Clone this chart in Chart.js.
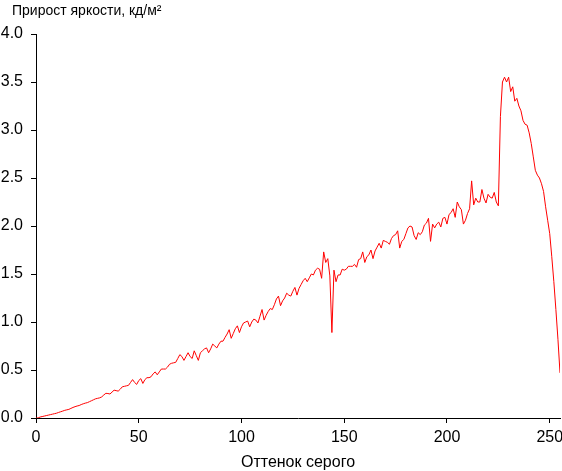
<!DOCTYPE html>
<html>
<head>
<meta charset="utf-8">
<script src="https://cdn.jsdelivr.net/npm/chart.js@4"></script>
<style>
  html, body { margin: 0; padding: 0; background: #fff; }
  #wrap { width: 562px; height: 471px; position: relative; }
</style>
</head>
<body>
<div id="wrap"><canvas id="gainChart" width="562" height="471"></canvas></div>
<script>
const chartTitle = "Прирост яркости, кд/м²";
const xTitle = "Оттенок серого";

// gray levels 0..255
const shades = Array.from({ length: 256 }, (_, i) => i);

// brightness increment per gray step
const gain = [
  0.00, 0.00, 0.01, 0.015, 0.02, 0.025, 0.03, 0.035, 0.04, 0.045,
  0.05, 0.058, 0.065, 0.072, 0.08, 0.085, 0.09, 0.10, 0.11, 0.118,
  0.125, 0.13, 0.14, 0.148, 0.155, 0.16, 0.17, 0.18, 0.19, 0.20,
  0.205, 0.21, 0.22, 0.24, 0.257, 0.255, 0.25, 0.27, 0.29, 0.285,
  0.28, 0.30, 0.325, 0.33, 0.335, 0.34, 0.37, 0.40, 0.37, 0.35,
  0.39, 0.41, 0.36, 0.40, 0.42, 0.42, 0.43, 0.46, 0.48, 0.45,
  0.48, 0.51, 0.51, 0.51, 0.53, 0.56, 0.57, 0.575, 0.58, 0.62,
  0.66, 0.64, 0.60, 0.64, 0.68, 0.64, 0.62, 0.70, 0.65, 0.60,
  0.68, 0.70, 0.72, 0.73, 0.68, 0.72, 0.77, 0.75, 0.73, 0.77,
  0.80, 0.80, 0.84, 0.875, 0.92, 0.83, 0.88, 0.93, 0.96, 0.89,
  0.95, 0.99, 1.00, 1.01, 0.95, 1.00, 1.03, 1.02, 0.99, 1.06,
  1.13, 1.02, 1.07, 1.11, 1.14, 1.13, 1.18, 1.24, 1.27, 1.17,
  1.22, 1.25, 1.30, 1.28, 1.27, 1.32, 1.36, 1.28, 1.35, 1.39,
  1.43, 1.455, 1.42, 1.46, 1.50, 1.49, 1.54, 1.56, 1.55, 1.455,
  1.73, 1.62, 1.66, 1.48, 0.89, 1.54, 1.42, 1.49, 1.49, 1.55,
  1.54, 1.55, 1.58, 1.58, 1.58, 1.60, 1.57, 1.65, 1.66, 1.73,
  1.62, 1.68, 1.70, 1.75, 1.66, 1.74, 1.78, 1.82, 1.77, 1.85,
  1.84, 1.83, 1.81, 1.87, 1.90, 1.91, 1.95, 1.77, 1.84, 1.86,
  1.92, 1.98, 2.00, 1.99, 1.90, 1.86, 1.93, 1.91, 1.94, 2.01,
  2.03, 2.08, 1.84, 2.02, 1.98, 2.02, 2.04, 1.99, 2.08, 2.09,
  2.02, 2.12, 2.14, 2.18, 2.09, 2.25, 2.20, 2.17, 2.02, 2.06,
  2.13, 2.18, 2.47, 2.22, 2.29, 2.25, 2.25, 2.38, 2.29, 2.24,
  2.33, 2.30, 2.29, 2.35, 2.25, 2.21, 3.14, 3.50, 3.55, 3.50,
  3.55, 3.40, 3.45, 3.30, 3.33, 3.25, 3.20, 3.10, 3.06, 3.05,
  2.97, 2.86, 2.72, 2.58, 2.53, 2.50, 2.44, 2.36, 2.20, 2.06,
  1.92, 1.68, 1.42, 1.13, 0.82, 0.47
];

const xTicks = [0, 50, 100, 150, 200, 250];
const yTicks = [0, 0.5, 1.0, 1.5, 2.0, 2.5, 3.0, 3.5, 4.0];

const family = "'Liberation Sans', Arial, sans-serif";
const tickFont = { family, size: 16 };

// title in the top left corner
const cornerTitle = {
  id: "cornerTitle",
  afterDraw(chart) {
    const ctx = chart.ctx;
    ctx.save();
    ctx.fillStyle = "#000";
    ctx.font = `14px ${family}`;
    ctx.textBaseline = "middle";
    ctx.textAlign = "left";
    ctx.fillText(chartTitle, 12, 11);
    ctx.restore();
  }
};

new Chart(document.getElementById("gainChart"), {
  type: "line",
  data: {
    labels: shades,
    datasets: [{
      data: gain,
      borderColor: "#ff0000",
      borderWidth: 1,
      pointRadius: 0,
      tension: 0,
      fill: false
    }]
  },
  options: {
    responsive: false,
    animation: false,
    layout: { padding: { left: 0, right: 2, top: 34, bottom: 0 } },
    plugins: { legend: { display: false }, tooltip: { enabled: false } },
    scales: {
      x: {
        type: "linear",
        min: 0,
        max: 255,
        afterBuildTicks: s => { s.ticks = xTicks.map(v => ({ value: v })); },
        afterFit: s => { s.height = 53; s.paddingLeft = 0; s.paddingRight = 0; },
        ticks: { color: "#000", font: tickFont, padding: 5, maxRotation: 0, autoSkip: false },
        grid: { drawOnChartArea: false, drawTicks: true, tickLength: 5, color: "#000" },
        border: { display: true, color: "#000" },
        title: { display: true, text: xTitle, color: "#000", font: { family, size: 16, lineHeight: 1 }, padding: 0 }
      },
      y: {
        min: 0,
        max: 4,
        afterBuildTicks: s => { s.ticks = yTicks.map(v => ({ value: v })); },
        afterFit: s => { s.width = 36; s.paddingTop = 0; s.paddingBottom = 0; },
        ticks: { color: "#000", font: tickFont, padding: 8, callback: v => v.toFixed(1) },
        grid: { drawOnChartArea: false, drawTicks: true, tickLength: 5, color: "#000" },
        border: { display: true, color: "#000" }
      }
    }
  },
  plugins: [cornerTitle]
});
</script>
</body>
</html>
